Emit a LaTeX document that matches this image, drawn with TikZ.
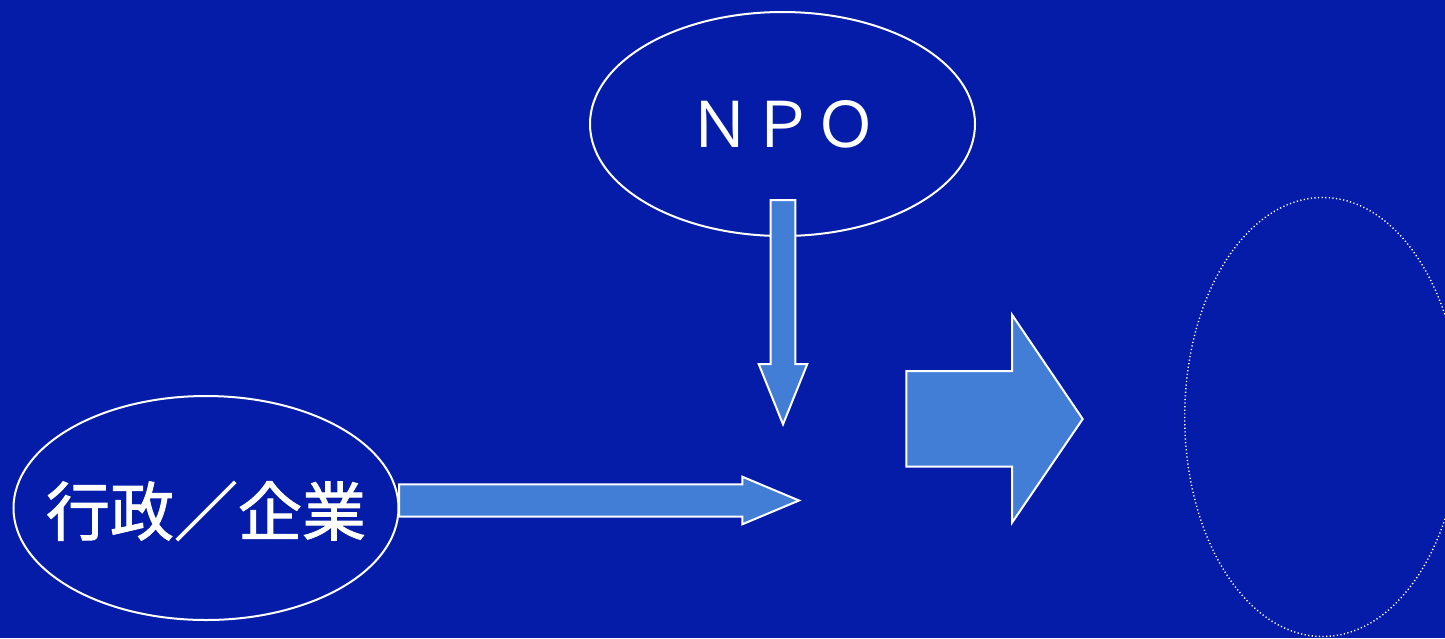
\documentclass[tikz,border=0pt]{standalone}
\usepackage{fontspec}
\newfontfamily\cjk{Noto Sans CJK JP}
\newfontfamily\cjkmid[FakeBold=1.5]{Noto Sans CJK JP}
\usetikzlibrary{shapes.geometric}

\definecolor{bgblue}{RGB}{4,28,168}
\definecolor{arrowblue}{RGB}{66,126,213}

\tikzset{
  oval/.style={ellipse, draw=white, line width=2pt, inner sep=0pt,
               minimum width=385pt, minimum height=224pt, text=white},
  ovaltext/.style={text=white, inner sep=0pt},
  blockarrow/.style={fill=arrowblue, draw=white, line width=2pt, line join=miter},
}

\begin{document}
\begin{tikzpicture}[x=1pt, y=-1pt]

  %% ════ 背景 ════
  \fill[bgblue] (0,0) rectangle (1445,638);

  %% ════ 椭圆 ════
  \node[oval] (npo) at (782.5,124) {};
  \node[ovaltext, font=\cjk\fontsize{63}{70}\selectfont] (npotext) at (npo.center) {ＮＰＯ};
  \node[oval] (gyosei) at (206,508) {};
  \node[ovaltext, font=\cjkmid\fontsize{64}{72}\selectfont] (gyoseitext) at ([yshift=-3pt]gyosei.center) {行政／企業};
  \node[ellipse, draw=white, line width=1.4pt, dash pattern=on 1.2pt off 2.4pt,
        minimum width=276pt, minimum height=439pt, inner sep=0pt] (result) at (1322.7,417) {};

  %% ════ 箭头（多边形）════
  % 向下：NPO 出发
  \draw[blockarrow] (770.7,200) -- (795.3,200) -- (795.3,364) -- (807.3,364)
        -- (783,424.3) -- (758.7,364) -- (770.7,364) -- cycle;
  % 向右：行政／企业 出发
  \draw[blockarrow] (399,484.3) -- (742.3,484.3) -- (742.3,476.7) -- (799,500.5)
        -- (742.3,524.3) -- (742.3,516.7) -- (399,516.7) -- cycle;
  % 大箭头
  \draw[blockarrow] (906.3,371) -- (1012,371) -- (1012,314.7) -- (1082.7,419)
        -- (1012,522.7) -- (1012,466.7) -- (906.3,466.7) -- cycle;

  % 钉死画布
  \pgfresetboundingbox
  \path[use as bounding box] (0,0) rectangle (1445,638);
\end{tikzpicture}
\end{document}
